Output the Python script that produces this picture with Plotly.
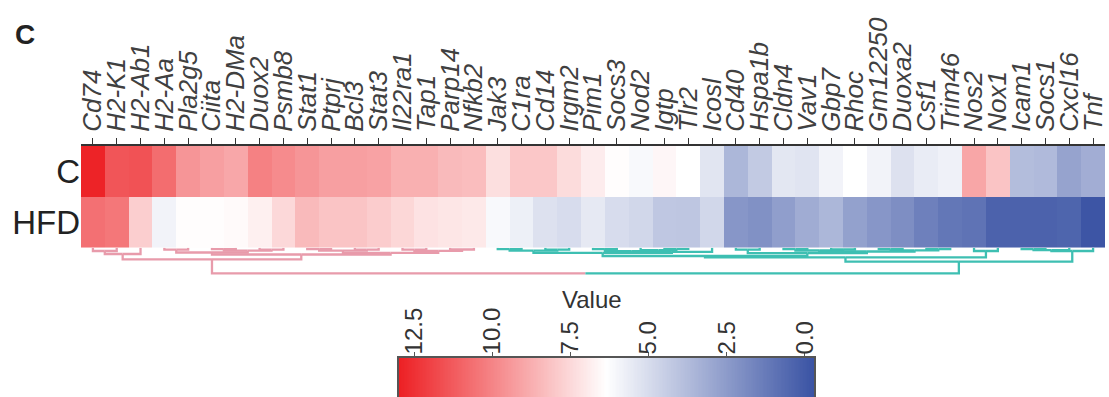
import numpy as np
import plotly.graph_objects as go

# ---------------- data ----------------
genes = ["Cd74", "H2-K1", "H2-Ab1", "H2-Aa", "Pla2g5", "Ciita", "H2-DMa", "Duox2",
         "Psmb8", "Stat1", "Ptprj", "Bcl3", "Stat3", "Il22ra1", "Tap1", "Parp14",
         "Nfkb2", "Jak3", "C1ra", "Cd14", "Irgm2", "Pim1", "Socs3", "Nod2", "Igtp",
         "Tlr2", "Icosl", "Cd40", "Hspa1b", "Cldn4", "Vav1", "Gbp7", "Rhoc",
         "Gm12250", "Duoxa2", "Csf1", "Trim46", "Nos2", "Nox1", "Icam1", "Socs1",
         "Cxcl16", "Tnf"]
groups = ["C", "HFD"]

value_C = [12.9, 11.4, 11.5, 10.7, 9.5, 9.2, 8.95, 10.1, 9.8, 9.5, 9.2, 9.2, 9.1,
           8.7, 8.7, 8.4, 8.3, 7.3, 8.0, 8.0, 7.4, 6.9, 6.4, 6.1, 6.6, 6.35, 5.35,
           3.55, 4.3, 5.4, 5.3, 5.9, 6.35, 5.9, 5.2, 5.6, 5.8, 9.0, 8.1, 3.8, 3.7,
           2.8, 3.2]
value_HFD = [10.6, 10.4, 7.8, 5.9, 6.4, 6.4, 6.5, 6.8, 7.5, 8.4, 8.1, 8.1, 7.85,
             7.55, 7.2, 7.1, 7.0, 6.1, 5.75, 5.2, 5.0, 5.5, 5.0, 4.8, 4.2, 4.15, 4.8,
             2.3, 2.1, 2.6, 3.15, 3.55, 2.7, 2.3, 2.0, 1.45, 1.1, 0.95, 0.3, 0.3,
             0.3, 0.4, -0.2]

# cluster of each leaf (0 = pink branch, 1 = teal branch)
leaf_cluster = [0, 0, 0, 0, 0, 0, 0, 0, 0, 0, 0, 0, 0, 0, 0, 0, 0,
                1, 1, 1, 1, 1, 1, 1, 1, 1, 1, 1, 1, 1, 1, 1, 1, 1, 1, 1, 1,
                1, 1, 1, 1, 1, 1]

# hierarchical merges: (left node, right node, merge height); new node ids start at 43
merges = [
    (0, 1, 3.3), (43, 2, 6.3), (3, 4, 2.0), (5, 6, 1.5), (7, 8, 2.0), (46, 47, 3.0),
    (45, 48, 4.8), (9, 10, 1.5), (11, 12, 2.0), (50, 51, 3.0), (13, 14, 2.0),
    (15, 16, 1.8), (53, 54, 3.2), (52, 55, 5.2), (49, 56, 6.8), (44, 57, 11.6),
    (17, 18, 1.5), (19, 20, 2.0), (59, 60, 3.0), (21, 22, 1.5), (24, 25, 1.2),
    (23, 63, 2.5), (62, 64, 3.5), (65, 26, 4.2), (61, 66, 5.2), (27, 28, 2.0),
    (29, 30, 1.5), (31, 32, 1.8), (69, 70, 2.8), (33, 34, 1.5), (35, 36, 1.3),
    (72, 73, 2.6), (71, 74, 3.8), (68, 75, 5.5), (67, 76, 8.3), (37, 38, 3.3),
    (77, 78, 9.6), (39, 40, 1.5), (80, 41, 2.5), (81, 42, 3.3), (79, 82, 14.0),
    (58, 83, 25.6),
]

cbar_ticks = [12.5, 10.0, 7.5, 5.0, 2.5, 0.0]
cbar_ticktext = ["12.5", "10.0", "7.5", "5.0", "2.5", "0.0"]
zmin, zmax = -0.29, 12.98

# ---------------- styling ----------------
W, H = 1109, 397
FONT = "Liberation Sans, Arial, Helvetica, sans-serif"
colorscale = [[0.0, "#3A53A4"], [0.5, "#FFFFFF"], [1.0, "#ED2024"]]
cluster_colors = ["#E89BAB", "#3EBFB2"]


def fx(p):
    return p / W


def fy(p):
    return 1 - p / H


n = len(genes)
fig = go.Figure()

# heatmap
fig.add_trace(go.Heatmap(
    z=[value_C, value_HFD], x=list(range(n)), y=[0, 1],
    colorscale=colorscale, zmin=zmin, zmax=zmax, showscale=False,
    xaxis="x", yaxis="y",
    customdata=[[g] * n for g in groups],
    text=[genes, genes],
    hovertemplate="%{text} / %{customdata}: %{z}<extra></extra>",
))

# dendrogram geometry from merges
pos = {i: i for i in range(n)}
hgt = {i: 0.0 for i in range(n)}
members = {i: {leaf_cluster[i]} for i in range(n)}
segs = {0: ([], []), 1: ([], [])}
for k, (a, b, h) in enumerate(merges):
    node = n + k
    xa, xb = pos[a], pos[b]
    mid = (xa + xb) / 2
    for child, xc in ((a, xa), (b, xb)):
        cl = min(members[child]) if len(members[child]) == 1 else 0
        xs, ys = segs[cl]
        xs += [xc, xc, mid, None]
        ys += [hgt[child], h, h, None]
    pos[node] = mid
    hgt[node] = h
    members[node] = members[a] | members[b]

for cl in (0, 1):
    xs, ys = segs[cl]
    fig.add_trace(go.Scatter(
        x=xs, y=ys, mode="lines", xaxis="x2", yaxis="y2",
        line=dict(color=cluster_colors[cl], width=2.3),
        hoverinfo="skip", showlegend=False,
    ))

# colour bar (reversed, drawn as gradient on its own axis)
grad = np.linspace(zmin, zmax, 300)
fig.add_trace(go.Heatmap(
    z=[grad], x=grad, y=[0.5], colorscale=colorscale, zmin=zmin, zmax=zmax,
    showscale=False, xaxis="x3", yaxis="y3", hoverinfo="skip",
))

xrange = [-0.5, n - 0.5]
xdomain = [fx(81), fx(1105)]

fig.update_layout(
    width=W, height=H, margin=dict(l=0, r=0, t=0, b=0),
    paper_bgcolor="white", plot_bgcolor="white", showlegend=False,
    font=dict(family=FONT, color="#333333"),
    xaxis=dict(
        domain=xdomain, range=xrange, anchor="y", side="top",
        tickmode="array", tickvals=list(range(n)), ticktext=genes, tickangle=-90,
        tickfont=dict(size=26, family=FONT, color="#404040", style="italic"),
        ticks="outside", ticklen=6, tickwidth=1.2, tickcolor="#333333",
        showline=True, linecolor="#333333", linewidth=1.5,
        showgrid=False, zeroline=False, automargin=False, ticklabelstandoff=1,
        ticklabeloverflow="allow",
    ),
    yaxis=dict(
        domain=[fy(247.7), fy(145.7)], range=[1.5, -0.5], anchor="x",
        tickmode="array", tickvals=[0, 1], ticktext=groups,
        tickfont=dict(size=33, family=FONT, color="#222222"),
        ticks="", showline=False, showgrid=False, zeroline=False, automargin=False,
    ),
    xaxis2=dict(
        domain=xdomain, range=xrange, anchor="y2",
        visible=False, showgrid=False, zeroline=False,
    ),
    yaxis2=dict(
        domain=[fy(278), fy(247.7)], range=[30.3, 0], anchor="x2",
        visible=False, showgrid=False, zeroline=False,
    ),
    xaxis3=dict(
        domain=[fx(399), fx(814)], range=[zmax, zmin], anchor="y3", side="top",
        tickmode="array", tickvals=cbar_ticks, ticktext=cbar_ticktext, tickangle=-90,
        tickfont=dict(size=24, family=FONT, color="#333333"),
        ticks="outside", ticklen=4, tickwidth=1.2, tickcolor="#555555",
        showline=True, linecolor="#555555", linewidth=1.5,
        showgrid=False, zeroline=False, automargin=False, ticklabelstandoff=-7,
    ),
    yaxis3=dict(
        domain=[0, fy(358)], range=[0, 1], anchor="x3",
        showticklabels=False, ticks="", showline=True, mirror=True,
        linecolor="#555555", linewidth=1.5, showgrid=False, zeroline=False,
    ),
    annotations=[
        dict(text="<b>C</b>", x=fx(25), y=fy(35), xref="paper", yref="paper",
             xanchor="center", yanchor="middle", showarrow=False,
             font=dict(size=28, family=FONT, color="#222222")),
        dict(text="Value", x=fx(592), y=fy(299), xref="paper", yref="paper",
             xanchor="center", yanchor="middle", showarrow=False,
             font=dict(size=24, family=FONT, color="#333333")),
    ],
)

fig.write_html("out.html", config={"displayModeBar": False},
               post_script="document.body.style.margin='0';")
